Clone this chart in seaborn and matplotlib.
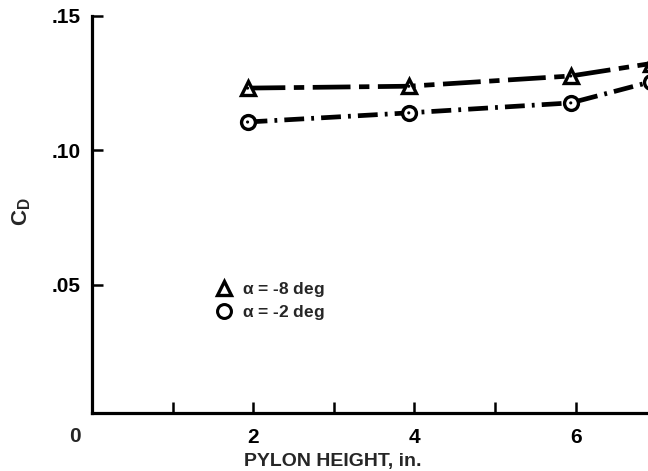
import matplotlib
matplotlib.use("Agg")
import matplotlib.pyplot as plt
from matplotlib.lines import Line2D
import seaborn as sns
import pandas as pd

# Drag coefficient versus pylon height, two angles of attack
pylon_height = [1.93, 3.93, 5.94, 6.93]
cd_alpha_m8 = [0.1231, 0.1238, 0.1276, 0.1322]
cd_alpha_m2 = [0.1105, 0.1139, 0.1176, 0.1254]
series_labels = [r"$\mathrm{\alpha}$ = -8 deg", r"$\mathrm{\alpha}$ = -2 deg"]

x_ticks = [1, 2, 3, 4, 5, 6, 7]
x_tick_labels = ["", "2", "", "4", "", "6", ""]
y_ticks = [0.05, 0.10, 0.15]
y_tick_labels = [".05", ".10", ".15"]

sns.set_theme(style="white")
plt.rcParams["font.family"] = ["Liberation Sans", "DejaVu Sans"]
plt.rcParams["font.weight"] = "bold"
plt.rcParams["mathtext.fontset"] = "custom"
plt.rcParams["mathtext.rm"] = "Liberation Sans"
plt.rcParams["mathtext.bf"] = "Liberation Sans:bold"
plt.rcParams["mathtext.it"] = "Liberation Sans:italic"

df_m8 = pd.DataFrame({"h": pylon_height, "cd": cd_alpha_m8})
df_m2 = pd.DataFrame({"h": pylon_height, "cd": cd_alpha_m2})

fig = plt.figure(figsize=(6.48, 4.71), dpi=100)
ax_w = 0.995
ax = fig.add_axes([0.142, 0.1231, ax_w, 0.8436])

marker_kw = dict(markersize=10, markerfacecolor="white", markeredgecolor="black",
                 markeredgewidth=2.4, color="black", linewidth=3.4)

sns.lineplot(data=df_m8, x="h", y="cd", ax=ax, marker="^",
             linestyle=(0, (8, 1.8, 2.2, 1.8)), **marker_kw)
sns.lineplot(data=df_m2, x="h", y="cd", ax=ax, marker="o",
             linestyle=(0, (4.2, 1.5, 0.6, 1.5)), **marker_kw)

# small centre dots inside the open symbols
for df in (df_m8, df_m2):
    sns.scatterplot(data=df, x="h", y="cd", ax=ax, s=5, color="black",
                    edgecolor="none", zorder=5)

ax.set_xlim(0, 8)
ax.set_ylim(0.0024, 0.15)
ax.set_xticks(x_ticks)
ax.set_xticklabels(x_tick_labels)
ax.set_yticks(y_ticks)
ax.set_yticklabels(y_tick_labels)
ax.tick_params(axis="both", which="major", direction="in", length=8, width=1.8,
               labelsize=15, colors="black", bottom=True, left=True)
ax.tick_params(axis="x", pad=11)
ax.tick_params(axis="y", pad=8)
for lbl in ax.get_xticklabels() + ax.get_yticklabels():
    lbl.set_fontweight("bold")

for side in ("top", "right"):
    ax.spines[side].set_visible(False)
for side in ("left", "bottom"):
    ax.spines[side].set_linewidth(2.3)
    ax.spines[side].set_color("black")

ax.set_xlabel("PYLON HEIGHT, in.", fontsize=14, fontweight="bold", va="center")
ax.xaxis.set_label_coords((333 - 92) / (ax_w * 648), (471 - 461 - 58) / (0.8436 * 471))
ax.set_ylabel(r"$\mathbf{C}_\mathbf{D}$", fontsize=16)
ax.yaxis.set_label_coords(-0.092, 0.508)

fig.text(75 / 648, 1 - 437 / 471, "0", fontsize=15, fontweight="bold",
         ha="center", va="center")

handles = [
    Line2D([], [], marker="^", linestyle="none", markersize=10,
           markerfacecolor="white", markeredgecolor="black", markeredgewidth=2.4),
    Line2D([], [], marker="o", linestyle="none", markersize=10,
           markerfacecolor="white", markeredgecolor="black", markeredgewidth=2.2),
]
leg = ax.legend(handles, series_labels, loc="upper left",
                bbox_to_anchor=((216 - 92) / (ax_w * 648), (471 - 280 - 58) / (0.8436 * 471)),
                frameon=False, fontsize=12.5, handlelength=0.9, handletextpad=0.6,
                labelspacing=0.25, borderaxespad=0, borderpad=0)
for t in leg.get_texts():
    t.set_fontweight("bold")

fig.savefig("out.png", dpi=100)
